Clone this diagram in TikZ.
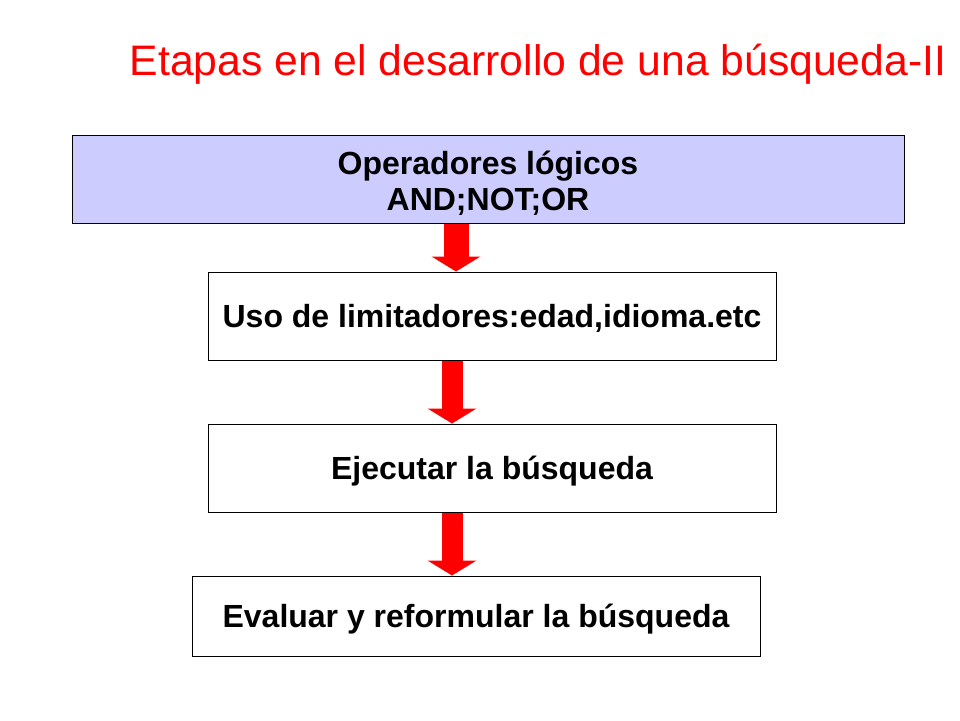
\documentclass[tikz,border=0pt]{standalone}
\usepackage{fontspec}
\setmainfont{Liberation Sans}
\usetikzlibrary{arrows.meta}
\definecolor{boxblue}{HTML}{CCCCFF}
\definecolor{arrred}{HTML}{FF0000}
\begin{document}
\begin{tikzpicture}[x=1pt,y=-1pt]
\tikzset{
  stepbox/.style={draw=black,line width=1pt,align=center,inner sep=0pt,
    font=\fontsize{32}{36}\selectfont\bfseries,text height=22.9pt,text depth=0pt},
  bigarrow/.style={draw=arrred,line width=#1,
    -{Triangle[width=49pt,length=15pt,line width=0pt,fill=arrred]}},
}
\useasboundingbox (0,0) rectangle (960,720);
\node[text=arrred,font=\fontsize{42.7}{48}\selectfont,inner sep=0pt,text height=30pt,text depth=0pt] (title) at (538,60) {Etapas en el desarrollo de una búsqueda-II};
\node[stepbox,fill=boxblue,minimum width=832pt,minimum height=88pt,text height=62pt,text depth=-4pt] (b1) at (488,179) {Operadores lógicos\\AND;NOT;OR};
\node[stepbox,minimum width=568pt,minimum height=88pt] (b2) at (492,316) {Uso de limitadores:edad,idioma.etc};
\node[stepbox,minimum width=568pt,minimum height=88pt] (b3) at (492,468) {Ejecutar la búsqueda};
\node[stepbox,minimum width=568pt,minimum height=80pt] (b4) at (476,616) {Evaluar y reformular la búsqueda};
\draw[bigarrow=25pt] (456,0 |- b1.south) -- (456,0 |- b2.north);
\draw[bigarrow=21pt] (452,0 |- b2.south) -- (452,0 |- b3.north);
\draw[bigarrow=21pt] (452,0 |- b3.south) -- (452,0 |- b4.north);
\end{tikzpicture}
\end{document}
